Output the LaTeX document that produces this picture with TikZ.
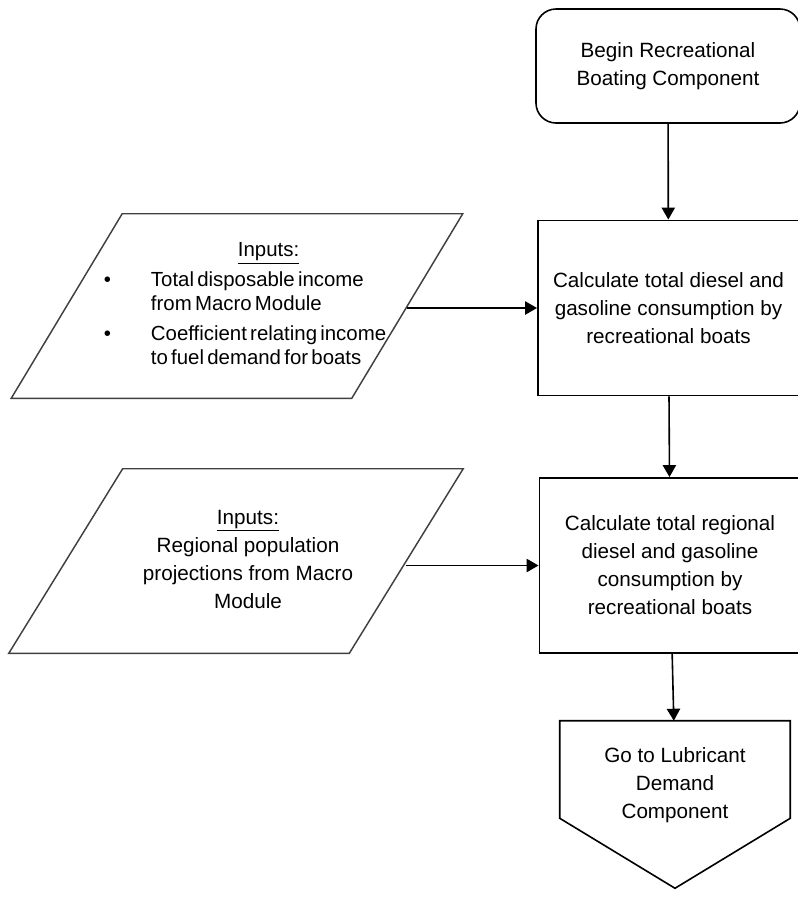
\documentclass[tikz,border=0pt]{standalone}
\usepackage{fontspec}
\setmainfont{Liberation Sans}
\usetikzlibrary{arrows.meta,shapes.geometric,positioning}
\tikzset{
  boxtext/.style={font=\fontsize{15.5}{21}\selectfont, align=center},
  startbox/.style={boxtext, draw, line width=1.2pt, rounded corners=15pt, minimum width=198pt, minimum height=85.5pt},
  procbox/.style={boxtext, draw, line width=1.2pt, minimum width=196pt, minimum height=131.5pt},
  inputbox/.style={boxtext, minimum width=255pt, minimum height=138pt},
  inputline/.style={draw=black!75, line width=1.1pt},
  flowarrow/.style={line width=1.2pt, -{Triangle[length=9pt,width=10pt]}},
}

\begin{document}
\begin{tikzpicture}[x=0.75pt, y=-0.75pt]
\useasboundingbox (0,0) rectangle (798,901);
\clip (0,0) rectangle (798,901);

% right column
\node[startbox] (start) at (668,66) {Begin Recreational\\Boating Component};
\node[procbox] (calc1) at (668.5,308) {Calculate total diesel and\\gasoline consumption by\\recreational boats};
\node[procbox] (calc2) at (670,565.5) {Calculate total regional\\diesel and gasoline\\consumption by\\recreational boats};

% off-page connector
\node[minimum width=172.5pt, minimum height=72.75pt] (goto) at (675,769.5) {};
\draw[line width=1.2pt] (goto.north west) -- (goto.north east) -- (goto.south east)
  -- ([yshift=-52.5pt]goto.south) -- (goto.south west) -- cycle;
\node[boxtext] (gotolabel) at (675,785) {Go to Lubricant\\Demand\\Component};

% inputs
\node[inputbox] (in1) at (237,306) {\fontsize{15.3}{18}\selectfont\spaceskip=0.16em
  \begin{tabular}{@{\hspace{12pt}}c@{\hspace{30pt}}l@{}}
  & \multicolumn{1}{c}{\underline{Inputs:}}\\[4.5pt]
  \textbullet & Total disposable income\\
  & from Macro Module\\[4.5pt]
  \textbullet & Coefficient relating income\\
  & to fuel demand for boats
  \end{tabular}};
\draw[inputline] ([xshift=41.6pt]in1.north west) -- ([xshift=41.6pt]in1.north east)
  -- ([xshift=-41.6pt]in1.south east) -- ([xshift=-41.6pt]in1.south west) -- cycle;
\node[inputbox] (in2) at (236,561) {\begin{tabular}{@{\hspace{18pt}}c@{}}
  \underline{Inputs:}\\Regional population\\projections from Macro\\Module
  \end{tabular}};
\draw[inputline] ([xshift=42.7pt]in2.north west) -- ([xshift=42.7pt]in2.north east)
  -- ([xshift=-42.7pt]in2.south east) -- ([xshift=-42.7pt]in2.south west) -- cycle;

% arrows
\draw[flowarrow] (start) -- (calc1);
\draw[flowarrow] (calc1) -- (calc2);
\draw[flowarrow] (calc2) -- (goto);
\draw[flowarrow] (calc1.west -| in1.east) -- (calc1.west);
\draw[flowarrow] (calc2.west -| in2.east) -- (calc2.west);
\end{tikzpicture}
\end{document}
